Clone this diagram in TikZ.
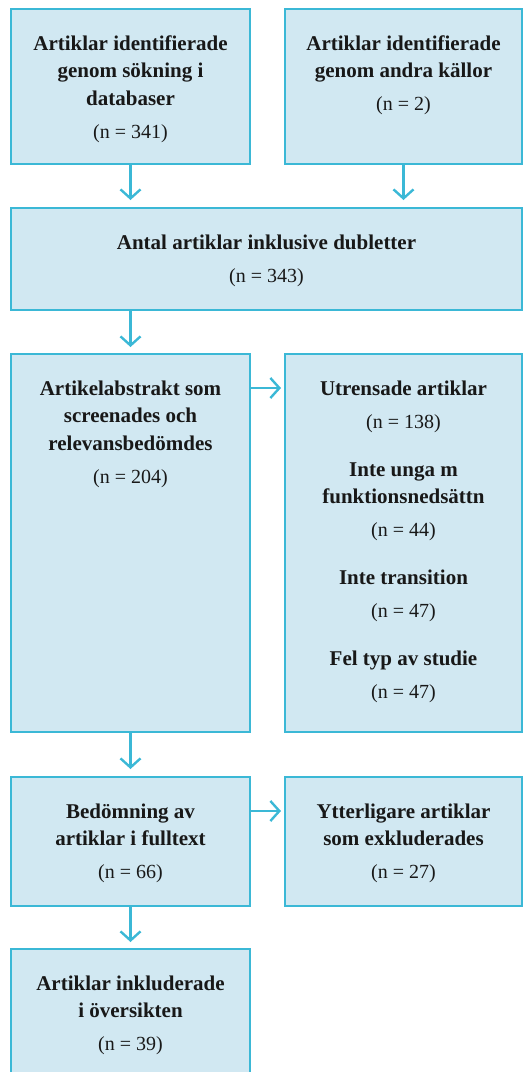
\documentclass[tikz,border=0pt]{standalone}
\usepackage{fontspec}
\setmainfont{Liberation Serif}
\usetikzlibrary{arrows.meta}

\definecolor{boxfill}{RGB}{209,232,242}
\definecolor{boxline}{RGB}{59,184,214}
\definecolor{inkdark}{RGB}{24,24,24}

\newcommand{\boxtxt}[3]{\parbox[t][#2][t]{#1}{\centering\fontsize{21}{27.5}\selectfont\bfseries\rule{0pt}{41pt}#3\par}}
\newcommand{\ncount}[1]{{\fontsize{20}{27.5}\selectfont\mdseries(n = #1)}}

\begin{document}
\begin{tikzpicture}[x=1pt,y=-1pt,
    flowbox/.style={draw=boxline,fill=boxfill,line width=1.6pt,inner sep=0pt,outer sep=0pt,anchor=north west,text=inkdark},
    flowarrow/.style={draw=boxline,line width=2.4pt,-{Straight Barb[length=9pt,width=20pt]}}]
    \useasboundingbox (0,0) rectangle (530,1072);
    % sources
    \node[flowbox] (srcdb) at (11,9) {\boxtxt{239pt}{155pt}{Artiklar identifierade\\genom sökning i\\databaser\\[5.5pt]\ncount{341}}};
    \node[flowbox] (srcother) at (285,9) {\boxtxt{237pt}{155pt}{Artiklar identifierade\\genom andra källor\\[5.5pt]\ncount{2}}};
    \node[flowbox] (dupl) at (11,208) {\boxtxt{511pt}{102pt}{Antal artiklar inklusive dubletter\\[5.5pt]\ncount{343}}};
    % screening
    \node[flowbox] (screened) at (11,354) {\boxtxt{239pt}{378pt}{Artikelabstrakt som\\screenades och\\relevansbedömdes\\[5.5pt]\ncount{204}}};
    \node[flowbox] (removed) at (285,354) {\boxtxt{237pt}{378pt}{Utrensade artiklar\\[5.5pt]\ncount{138}\\[20.5pt]Inte unga m\\funktionsnedsättn\\[5.5pt]\ncount{44}\\[20.5pt]Inte transition\\[5.5pt]\ncount{47}\\[20.5pt]Fel typ av studie\\[5.5pt]\ncount{47}}};
    % full text
    \node[flowbox] (fulltext) at (11,777) {\boxtxt{239pt}{129pt}{Bedömning av\\artiklar i fulltext\\[5.5pt]\ncount{66}}};
    \node[flowbox] (excluded) at (285,777) {\boxtxt{237pt}{129pt}{Ytterligare artiklar\\som exkluderades\\[5.5pt]\ncount{27}}};
    \node[flowbox] (included) at (11,949) {\boxtxt{239pt}{126pt}{Artiklar inkluderade\\i översikten\\[5.5pt]\ncount{39}}};

    \draw[flowarrow,shorten >=8pt] (srcdb.south) -- (srcdb.south |- dupl.north);
    \draw[flowarrow,shorten >=8pt] (srcother.south) -- (srcother.south |- dupl.north);
    \draw[flowarrow,shorten >=7pt] (screened.north |- dupl.south) -- (screened.north);
    \draw[flowarrow,shorten >=4pt] ([yshift=-34pt]screened.north east) -- ([yshift=-34pt]removed.north west);
    \draw[flowarrow,shorten >=8pt] (screened.south) -- (fulltext.north);
    \draw[flowarrow,shorten >=4pt] ([yshift=-34pt]fulltext.north east) -- ([yshift=-34pt]excluded.north west);
    \draw[flowarrow,shorten >=7pt] (fulltext.south) -- (included.north);
\end{tikzpicture}
\end{document}
